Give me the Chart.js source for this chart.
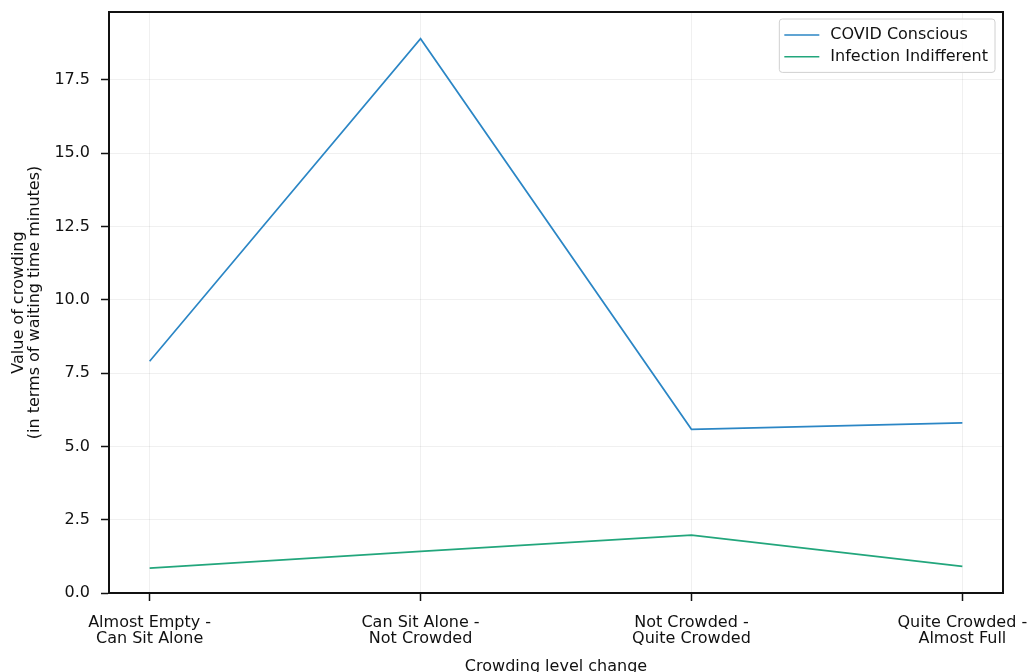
<!DOCTYPE html>
<html lang="en">
<head>
    <meta charset="UTF-8">
    <title>Value of crowding</title>
    <style>
        body { margin: 0; background: #fff; }
        #wrap { width: 1027px; height: 672px; }
    </style>
</head>
<body>
    <div id="wrap"><canvas id="crowdChart"></canvas></div>
    <script src="https://cdn.jsdelivr.net/npm/chart.js@4.4.1/dist/chart.umd.min.js"></script>
    <script type="text/javascript">
        const categories = [
            ['Almost Empty -', 'Can Sit Alone'],
            ['Can Sit Alone -', 'Not Crowded'],
            ['Not Crowded -', 'Quite Crowded'],
            ['Quite Crowded -', 'Almost Full']
        ];
        const covidConscious = [7.90, 18.90, 5.58, 5.80];
        const infectionIndifferent = [0.85, 1.42, 1.97, 0.91];
        const yTicks = [0, 2.5, 5, 7.5, 10, 12.5, 15, 17.5];

        const toPoints = vals => vals.map((v, i) => ({x: i, y: v}));
        const font = {family: 'DejaVu Sans', size: 16, lineHeight: 1.05};

        // matplotlib-style box legend in the upper right corner
        const boxLegend = {
            id: 'boxLegend',
            afterDraw(chart) {
                const ctx = chart.ctx;
                const area = chart.chartArea;
                ctx.save();
                ctx.font = '16px "DejaVu Sans"';
                const sets = chart.data.datasets;
                const textW = Math.max(...sets.map(d => ctx.measureText(d.label).width));
                const w = 5 + 35 + 11 + textW + 7;
                const rowH = 21.7;
                const h = sets.length * rowH + 10;
                const x = area.right - 8 - w;
                const y = area.top + 7;
                ctx.beginPath();
                ctx.roundRect(x, y, w, h, 3);
                ctx.fillStyle = 'rgba(255,255,255,0.85)';
                ctx.fill();
                ctx.strokeStyle = '#d0d0d0';
                ctx.lineWidth = 1;
                ctx.stroke();
                sets.forEach((d, i) => {
                    const cy = y + 16 + i * rowH;
                    ctx.beginPath();
                    ctx.moveTo(x + 5, cy);
                    ctx.lineTo(x + 40, cy);
                    ctx.strokeStyle = d.borderColor;
                    ctx.lineWidth = 1.5;
                    ctx.stroke();
                    ctx.fillStyle = '#111';
                    ctx.textBaseline = 'middle';
                    ctx.fillText(d.label, x + 51, cy);
                });
                ctx.restore();
            }
        };

        // full black frame round the plot area
        const frame = {
            id: 'frame',
            afterDatasetsDraw(chart) {
                const {ctx, chartArea: a} = chart;
                ctx.save();
                ctx.strokeStyle = '#111';
                ctx.lineWidth = 2;
                ctx.strokeRect(a.left, a.top, a.right - a.left, a.bottom - a.top);
                ctx.restore();
            }
        };

        const ctx = document.getElementById('crowdChart');

        new Chart(ctx, {
            type: 'line',
            data: {
                datasets: [{
                    label: 'COVID Conscious',
                    data: toPoints(covidConscious),
                    borderColor: '#2b86c5',
                    borderWidth: 1.7,
                    pointRadius: 0,
                    fill: false,
                    tension: 0
                },
                {
                    label: 'Infection Indifferent',
                    data: toPoints(infectionIndifferent),
                    borderColor: '#22a67c',
                    borderWidth: 1.7,
                    pointRadius: 0,
                    fill: false,
                    tension: 0
                }]
            },
            options: {
                responsive: true,
                maintainAspectRatio: false,
                animation: false,
                layout: { padding: {top: 12, right: 24, left: 0, bottom: 0} },
                plugins: {
                    legend: { display: false },
                    tooltip: { enabled: false }
                },
                scales: {
                    x: {
                        type: 'linear',
                        min: -0.15,
                        max: 3.15,
                        afterBuildTicks: s => { s.ticks = categories.map((_, i) => ({value: i})); },
                        afterFit: s => { s.height = 79; s.paddingLeft = 0; s.paddingRight = 0; },
                        ticks: {
                            callback: v => categories[v],
                            color: '#111',
                            font: font,
                            padding: 13,
                            maxRotation: 0,
                            autoSkip: false
                        },
                        grid: {
                            color: 'rgba(0,0,0,0.06)',
                            tickColor: '#111',
                            tickLength: 8,
                            tickWidth: 1.5
                        },
                        border: { color: '#111', width: 2 },
                        title: {
                            display: true,
                            text: 'Crowding level change',
                            color: '#111',
                            font: {family: 'DejaVu Sans', size: 16},
                            padding: {top: 0, bottom: -4}
                        }
                    },
                    y: {
                        min: 0,
                        max: 19.81,
                        afterBuildTicks: s => { s.ticks = yTicks.map(v => ({value: v})); },
                        afterFit: s => { s.width = 109; s.paddingTop = 0; s.paddingBottom = 0; },
                        ticks: {
                            callback: v => v.toFixed(1),
                            color: '#111',
                            font: font,
                            padding: 11
                        },
                        grid: {
                            color: 'rgba(0,0,0,0.06)',
                            tickColor: '#111',
                            tickLength: 8,
                            tickWidth: 1.5
                        },
                        border: { color: '#111', width: 2 },
                        title: {
                            display: true,
                            text: ['Value of crowding', '(in terms of waiting time minutes)'],
                            color: '#111',
                            font: font,
                            padding: {top: 10, bottom: 0}
                        }
                    }
                }
            },
            plugins: [frame, boxLegend]
        });
    </script>
</body>
</html>
